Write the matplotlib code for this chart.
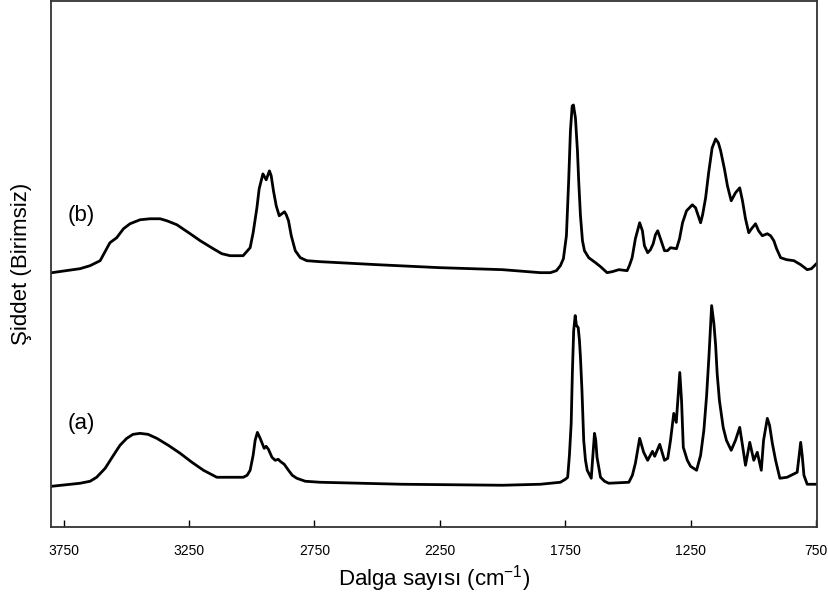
import matplotlib
matplotlib.use("Agg")
import matplotlib.pyplot as plt

plt.rcParams['font.family'] = ['Liberation Sans', 'DejaVu Sans']
plt.rcParams['mathtext.fontset'] = 'custom'
plt.rcParams['mathtext.rm'] = 'Liberation Sans'

# spectrum (a): wavenumber (cm-1) and intensity (arb. units)
wn_a = [3796, 3684, 3644, 3618, 3584, 3551, 3525, 3498, 3473, 3445, 3413, 3378, 3332, 3285,
        3238, 3192, 3139, 3099, 3033, 3018, 3006, 2994, 2986, 2977, 2966, 2950, 2942, 2933,
        2919, 2906, 2894, 2886, 2870, 2853, 2838, 2820, 2786, 2727, 2400, 2000,
        1849, 1769, 1749, 1740, 1733, 1726, 1721, 1716, 1710, 1705, 1698, 1693, 1689, 1683,
        1676, 1669, 1662, 1646, 1640, 1633, 1628, 1623, 1609, 1593, 1576, 1496, 1482, 1470,
        1453, 1437, 1421, 1402, 1393, 1373, 1354, 1341, 1330, 1317, 1307, 1293, 1286, 1279,
        1263, 1250, 1226, 1210, 1197, 1186, 1177, 1166, 1157, 1150, 1144, 1135, 1120, 1107,
        1088, 1071, 1054, 1043, 1031, 1014, 998, 984, 968, 959, 944, 935, 924, 911,
        894, 865, 825, 817, 811, 805, 798, 785, 746]
int_a = [41, 44, 46, 50, 59, 72, 82, 89, 93, 94, 93, 89, 82, 74,
         65, 57, 50, 50, 50, 52, 57, 72, 87, 95, 89, 79, 81, 78,
         70, 67, 68, 66, 63, 57, 52, 49, 46, 45, 43, 42,
         43, 45, 48, 50, 72, 104, 157, 197, 212, 202, 200, 187, 170, 137,
         87, 67, 57, 49, 70, 94, 87, 70, 50, 46, 44, 45, 52, 64,
         89, 75, 67, 76, 71, 83, 67, 69, 87, 114, 105, 155, 127, 80,
         67, 61, 57, 72, 97, 132, 170, 222, 204, 182, 154, 127, 100, 87,
         77, 87, 100, 82, 62, 85, 67, 75, 57, 87, 109, 102, 84, 67,
         49, 50, 55, 72, 85, 72, 52, 43, 43]

# spectrum (b)
wn_b = [3796, 3684, 3644, 3604, 3565, 3538, 3511, 3485, 3445, 3405, 3365, 3338, 3298, 3245,
        3205, 3153, 3119, 3086, 3034, 3006, 2994, 2979, 2970, 2955, 2942, 2929, 2922, 2913,
        2902, 2890, 2869, 2862, 2853, 2842, 2826, 2806, 2780, 2727, 2500, 2250, 2000,
        1849, 1809, 1785, 1769, 1757, 1745, 1736, 1729, 1722, 1717, 1709, 1701, 1696, 1689,
        1681, 1673, 1656, 1629, 1609, 1583, 1562, 1536, 1503, 1494, 1483, 1470, 1453, 1442,
        1434, 1421, 1410, 1399, 1390, 1381, 1370, 1354, 1342, 1330, 1306, 1294, 1282, 1266,
        1243, 1230, 1218, 1210, 1202, 1190, 1178, 1164, 1150, 1139, 1130, 1115, 1103, 1088,
        1071, 1054, 1043, 1031, 1018, 1007, 991, 979, 964, 944, 931, 918, 907, 891,
        867, 838, 811, 785, 768, 752, 744]
int_b = [255, 259, 262, 267, 285, 290, 299, 304, 308, 309, 309, 307, 303, 294,
         287, 279, 274, 272, 272, 280, 295, 320, 339, 354, 348, 357, 352, 337,
         322, 312, 316, 313, 307, 292, 277, 270, 267, 266, 263, 260, 258,
         255, 255, 257, 262, 269, 292, 347, 397, 422, 423, 410, 377, 347, 312,
         287, 277, 270, 265, 261, 255, 256, 258, 257, 262, 270, 289, 305, 297,
         282, 275, 278, 284, 293, 297, 289, 277, 277, 280, 279, 289, 305, 317,
         323, 320, 311, 305, 313, 330, 355, 380, 389, 385, 377, 359, 342, 327,
         335, 340, 327, 309, 295, 299, 304, 297, 292, 294, 292, 287, 279, 270,
         268, 267, 263, 258, 259, 263, 265]

xticks = [3750, 3250, 2750, 2250, 1750, 1250, 750]

fig = plt.figure(figsize=(8.29, 5.95), dpi=100)
ax = fig.add_axes([0.0615, 0.114, 0.924, 0.884])

ax.plot(wn_a, int_a, color='black', lw=2)
ax.plot(wn_b, int_b, color='black', lw=2)

ax.text(3680, 312, "(b)", fontsize=16, ha='center', va='center')
ax.text(3680, 104, "(a)", fontsize=16, ha='center', va='center')

ax.set_xlim(3800, 746)
ax.set_ylim(0, 527)
ax.set_xticks(xticks)
ax.set_yticks([])
ax.tick_params(axis='x', direction='in', length=5, width=1, pad=12, labelsize=10)
for s in ax.spines.values():
    s.set_linewidth(1.3)
    s.set_color('#333333')

ax.set_xlabel("Dalga sayısı (cm$^{\\mathregular{-1}}$)", fontsize=16, labelpad=4)
ax.set_ylabel("Şiddet (Birimsiz)", fontsize=16, labelpad=14)

fig.savefig("out.png", dpi=100)
